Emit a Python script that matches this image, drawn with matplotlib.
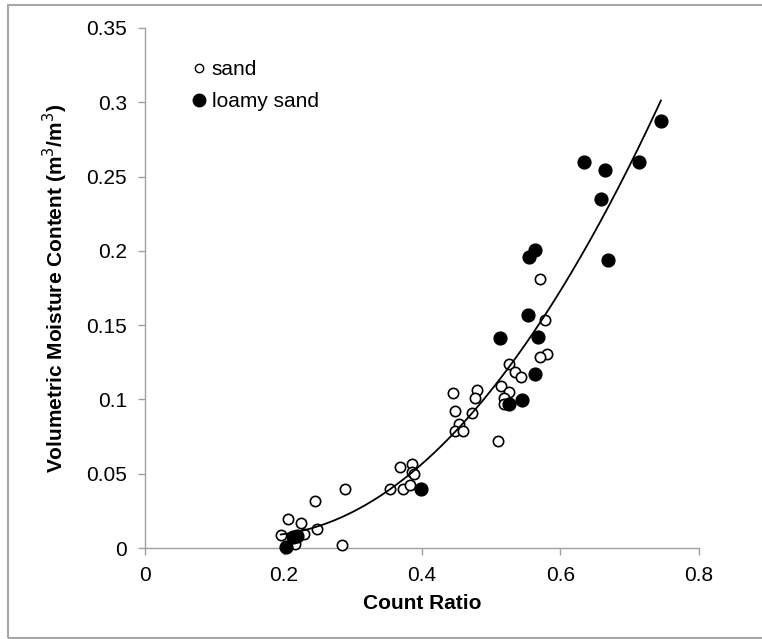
import numpy as np
import matplotlib
matplotlib.use("Agg")
import matplotlib.pyplot as plt
from matplotlib.lines import Line2D
from matplotlib.patches import Rectangle

plt.rcParams['font.family'] = ['Liberation Sans', 'DejaVu Sans']

# sand (open circles)
sand_x = [0.196, 0.207, 0.225, 0.230, 0.216, 0.245, 0.249, 0.289, 0.285, 0.354,
          0.368, 0.372, 0.382, 0.385, 0.386, 0.389, 0.570, 0.578, 0.581, 0.570,
          0.526, 0.534, 0.543, 0.514, 0.525, 0.519, 0.518, 0.480, 0.477, 0.445,
          0.447, 0.472, 0.453, 0.448, 0.459, 0.510]
sand_y = [0.0087, 0.0195, 0.0166, 0.0094, 0.0027, 0.0318, 0.0128, 0.0395, 0.0022, 0.040,
          0.0547, 0.0395, 0.0424, 0.0563, 0.0514, 0.0498, 0.1808, 0.1534, 0.1303, 0.1283,
          0.1238, 0.1187, 0.1153, 0.1092, 0.1048, 0.1007, 0.0969, 0.1063, 0.1007, 0.1041,
          0.0924, 0.0906, 0.0832, 0.0787, 0.0789, 0.072]

# loamy sand (filled circles)
loamy_x = [0.204, 0.214, 0.220, 0.399, 0.526, 0.544, 0.563, 0.512, 0.568, 0.553,
           0.554, 0.563, 0.668, 0.634, 0.665, 0.658, 0.713, 0.745]
loamy_y = [0.001, 0.0074, 0.008, 0.040, 0.0967, 0.0993, 0.1171, 0.1415, 0.1422, 0.1568,
           0.1956, 0.2005, 0.1938, 0.2596, 0.2544, 0.2349, 0.260, 0.2873]

xticks = [0, 0.2, 0.4, 0.6, 0.8]
yticks = [0, 0.05, 0.1, 0.15, 0.2, 0.25, 0.3, 0.35]

fig = plt.figure(figsize=(7.62, 6.39), dpi=100)
ax = fig.add_axes([0.1903, 0.1424, 0.727, 0.8138])

ax.scatter(sand_x, sand_y, s=55, facecolor='white', edgecolor='black',
           linewidths=1.2, clip_on=False, zorder=3)
ax.scatter(loamy_x, loamy_y, s=85, color='black', clip_on=False, zorder=4)

# polynomial trend line (order 2) over all points
all_x = np.array(sand_x + loamy_x)
all_y = np.array(sand_y + loamy_y)
coef = np.polyfit(all_x, all_y, 2)
xs = np.linspace(all_x.min(), all_x.max(), 200)
ax.plot(xs, np.polyval(coef, xs), color='black', lw=1.3, zorder=5)

ax.set_xlim(0, 0.8)
ax.set_ylim(0, 0.35)
ax.set_xticks(xticks)
ax.set_xticklabels(['0', '0.2', '0.4', '0.6', '0.8'])
ax.set_yticks(yticks)
ax.set_yticklabels(['0', '0.05', '0.1', '0.15', '0.2', '0.25', '0.3', '0.35'])

for side in ['top', 'right']:
    ax.spines[side].set_visible(False)
for side in ['left', 'bottom']:
    ax.spines[side].set_color('#a0a0a0')
    ax.spines[side].set_linewidth(1)
ax.tick_params(axis='both', direction='out', length=5, width=1, color='#a0a0a0',
               labelsize=15, pad=8)

ax.set_xlabel('Count Ratio', fontsize=15, fontweight='bold')
ax.xaxis.set_label_coords(0.5, -0.106)
ax.xaxis.label.set_va('center')
ax.set_ylabel('Volumetric Moisture Content (m$^3$/m$^3$)', fontsize=15, fontweight='bold')
ax.yaxis.set_label_coords(-0.162, 0.5)
ax.yaxis.label.set_va('center')

handles = [
    Line2D([], [], marker='o', ls='none', markersize=6, markerfacecolor='white',
           markeredgecolor='black', markeredgewidth=1),
    Line2D([], [], marker='o', ls='none', markersize=9, color='black'),
]
ax.legend(handles, ['sand', 'loamy sand'], loc='upper left',
          bbox_to_anchor=(0.068, 0.958), frameon=False, fontsize=15,
          handlelength=0.6, handletextpad=0.3, labelspacing=0.62, borderpad=0)

fig.patches.append(Rectangle((8 / 762, 1 / 639), 1.0, 1 - 6 / 639,
                             transform=fig.transFigure, fill=False,
                             edgecolor='#a6a6a6', lw=1.5, clip_on=False))

fig.savefig('out.png', dpi=100)
